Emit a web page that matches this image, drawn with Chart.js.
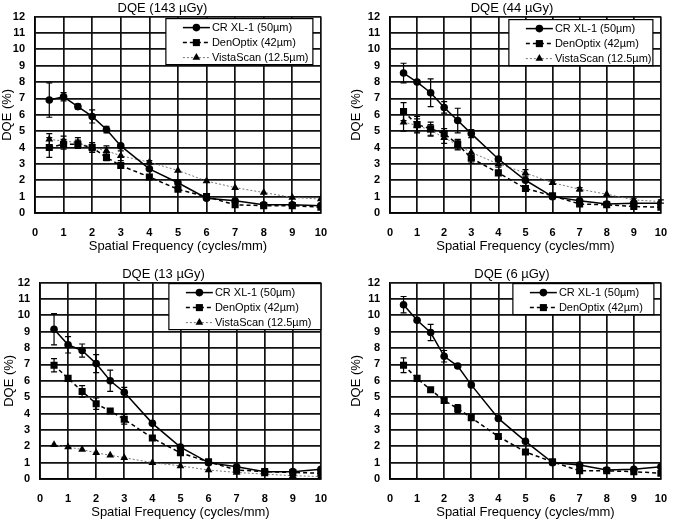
<!DOCTYPE html>
<html>
<head>
<meta charset="utf-8">
<script src="https://cdn.jsdelivr.net/npm/chart.js@4/dist/chart.umd.min.js"></script>
<style>
  body { margin: 0; background: #fff; }
  #wrap { position: relative; width: 681px; height: 520px; }
  canvas { position: absolute; }
</style>
</head>
<body>
<div id="wrap">
  <canvas id="c1" width="340" height="254" style="left:0;top:0"></canvas>
  <canvas id="c2" width="340" height="254" style="left:340px;top:0"></canvas>
  <canvas id="c3" width="340" height="254" style="left:0;top:266px"></canvas>
  <canvas id="c4" width="340" height="254" style="left:340px;top:266px"></canvas>
</div>
<script>
// Frecuencias espaciales (cycles/mm)
const freq = [0.5, 1, 1.5, 2, 2.5, 3, 4, 5, 6, 7, 8, 9, 10];

const titulos = ['DQE (143 µGy)', 'DQE (44 µGy)', 'DQE (13 µGy)', 'DQE (6 µGy)'];
const nombres = ['CR XL-1 (50µm)', 'DenOptix (42µm)', 'VistaScan (12.5µm)'];

// 143 µGy
const cr143 = [6.9, 7.1, 6.5, 5.9, 5.1, 4.1, 2.7, 1.85, 0.9, 0.75, 0.5, 0.5, 0.45];
const crErr143 = [1.05, 0.25, 0.15, 0.4, 0.2, 0.1, 0, 0, 0, 0, 0, 0, 0];
const den143 = [4.0, 4.2, 4.2, 4.0, 3.4, 2.9, 2.2, 1.45, 1.0, 0.5, 0.45, 0.45, 0.35];
const denErr143 = [0.6, 0.3, 0.25, 0.2, 0.2, 0.1, 0, 0, 0, 0, 0, 0, 0];
const vis143 = [4.5, 4.4, 4.3, 4.0, 3.8, 3.5, 3.1, 2.6, 1.95, 1.55, 1.25, 0.95, 0.85];
const visErr143 = [0.35, 0.3, 0.3, 0.3, 0.3, 0.3, 0.1, 0, 0, 0, 0, 0, 0];

// 44 µGy
const cr44 = [8.55, 8.0, 7.35, 6.45, 5.65, 4.85, 3.3, 2.0, 1.0, 0.75, 0.55, 0.6, 0.6];
const crErr44 = [0.6, 0.05, 0.85, 0.35, 0.75, 0.25, 0.15, 0, 0, 0, 0, 0, 0];
const den44 = [6.2, 5.4, 5.15, 4.85, 4.2, 3.35, 2.45, 1.5, 1.05, 0.55, 0.5, 0.4, 0.35];
const denErr44 = [0.55, 0.5, 0.4, 0.3, 0.3, 0.3, 0, 0, 0, 0, 0, 0, 0];
const vis44 = [5.55, 5.35, 5.05, 4.6, 4.15, 3.7, 3.0, 2.45, 1.85, 1.45, 1.15, 0.8, 0.7];
const visErr44 = [0.55, 0.4, 0.35, 0.35, 0.3, 0.3, 0.2, 0.2, 0.1, 0.1, 0, 0.1, 0.1];

// 13 µGy
const cr13 = [9.15, 8.2, 7.85, 7.05, 6.0, 5.3, 3.4, 1.95, 1.0, 0.75, 0.45, 0.45, 0.6];
const crErr13 = [0.95, 0.5, 0.4, 0.55, 0.65, 0.3, 0, 0, 0, 0, 0, 0, 0];
const den13 = [6.95, 6.15, 5.35, 4.6, 4.15, 3.65, 2.5, 1.6, 1.05, 0.55, 0.45, 0.4, 0.35];
const denErr13 = [0.4, 0.05, 0.35, 0.35, 0.05, 0.3, 0.1, 0, 0, 0, 0, 0, 0];
const vis13 = [2.1, 1.95, 1.8, 1.6, 1.45, 1.3, 1.0, 0.8, 0.55, 0.4, 0.3, 0.2, 0.15];

// 6 µGy
const cr6 = [10.65, 9.7, 8.95, 7.5, 6.9, 5.75, 3.7, 2.3, 1.0, 0.85, 0.55, 0.6, 0.75];
const crErr6 = [0.5, 0, 0.5, 0.35, 0, 0, 0, 0, 0, 0, 0, 0, 0];
const den6 = [6.95, 6.15, 5.45, 4.8, 4.3, 3.75, 2.6, 1.65, 1.05, 0.5, 0.5, 0.45, 0.35];
const denErr6 = [0.45, 0.15, 0, 0.15, 0.25, 0, 0, 0, 0, 0, 0, 0, 0];

const fuente = 'Liberation Sans, Arial, sans-serif';

// Estilos de cada serie
const estilos = [
    { borderColor: '#000', borderWidth: 1.5, borderDash: [], pointStyle: 'circle', pointRadius: 3.8 },
    { borderColor: '#000', borderWidth: 1.5, borderDash: [4, 3], pointStyle: 'rect', pointRadius: 5 },
    { borderColor: '#777', borderWidth: 1, borderDash: [2, 2], pointStyle: 'triangle', pointRadius: 4.5 }
];

function dibujarMarcador(ctx, estilo, x, y, r) {
    ctx.beginPath();
    if (estilo === 'circle') {
        ctx.arc(x, y, r, 0, Math.PI * 2);
    } else if (estilo === 'rect') {
        const s = r * Math.SQRT1_2;
        ctx.rect(x - s, y - s, 2 * s, 2 * s);
    } else {
        ctx.moveTo(x, y - r);
        ctx.lineTo(x + r * 0.866, y + r * 0.5);
        ctx.lineTo(x - r * 0.866, y + r * 0.5);
        ctx.closePath();
    }
    ctx.fill();
}

// Barras de error verticales
const barrasError = {
    id: 'barrasError',
    afterDatasetsDraw(chart) {
        const ctx = chart.ctx;
        const sx = chart.scales.x, sy = chart.scales.y;
        chart.data.datasets.forEach(ds => {
            if (!ds.errores) return;
            ctx.save();
            ctx.strokeStyle = '#000';
            ctx.lineWidth = 1.2;
            ds.data.forEach((p, i) => {
                const e = ds.errores[i];
                if (!e) return;
                const px = sx.getPixelForValue(p.x);
                const arriba = sy.getPixelForValue(p.y + e);
                const abajo = sy.getPixelForValue(p.y - e);
                ctx.beginPath();
                ctx.moveTo(px, arriba); ctx.lineTo(px, abajo);
                ctx.moveTo(px - 3, arriba); ctx.lineTo(px + 3, arriba);
                ctx.moveTo(px - 3, abajo); ctx.lineTo(px + 3, abajo);
                ctx.stroke();
            });
            ctx.restore();
        });
    }
};

// Leyenda con recuadro dentro del área del gráfico
const leyendaCaja = {
    id: 'leyendaCaja',
    afterDraw(chart, args, opts) {
        const a = chart.chartArea, ctx = chart.ctx;
        const n = chart.data.datasets.length;
        const izq = a.right - opts.derecha - opts.ancho;
        const arr = a.top + opts.arriba;
        const alto = n * 15 + 1;
        ctx.save();
        ctx.fillStyle = '#fff';
        ctx.fillRect(izq, arr, opts.ancho, alto);
        ctx.strokeStyle = '#000';
        ctx.lineWidth = 1.2;
        ctx.strokeRect(izq, arr, opts.ancho, alto);
        chart.data.datasets.forEach((ds, i) => {
            const cy = arr + 9 + i * 15;
            const x0 = izq + 17, x1 = izq + 44;
            ctx.setLineDash(ds.borderDash || []);
            ctx.strokeStyle = ds.borderColor;
            ctx.lineWidth = ds.borderWidth;
            ctx.beginPath(); ctx.moveTo(x0, cy); ctx.lineTo(x1, cy); ctx.stroke();
            ctx.setLineDash([]);
            ctx.fillStyle = '#000';
            dibujarMarcador(ctx, ds.pointStyle, (x0 + x1) / 2, cy, ds.pointRadius);
            ctx.font = '11px ' + fuente;
            ctx.textBaseline = 'middle';
            ctx.fillText(ds.label, x1 + 2, cy);
        });
        ctx.restore();
    }
};

function crearGrafico(id, titulo, series, errores, cfg) {
    const datasets = series.map((valores, i) => Object.assign({
        label: nombres[i],
        data: freq.map((f, j) => ({ x: f, y: valores[j] })),
        errores: errores[i],
        pointBackgroundColor: '#000',
        pointBorderColor: '#000',
        pointBorderWidth: 0,
        tension: 0,
        fill: false
    }, estilos[i]));

    return new Chart(document.getElementById(id), {
        type: 'line',
        data: { datasets: datasets },
        plugins: [barrasError, leyendaCaja],
        options: {
            responsive: false,
            animation: false,
            layout: { padding: { left: cfg.padIzq, right: cfg.padDer, top: 0, bottom: 0 } },
            plugins: {
                legend: { display: false },
                tooltip: { enabled: false },
                title: {
                    display: true,
                    text: titulo,
                    color: '#000',
                    font: { family: fuente, size: 13, weight: 'normal' },
                    padding: { top: 0, bottom: 0 }
                },
                leyendaCaja: cfg.leyenda
            },
            scales: {
                x: {
                    type: 'linear',
                    min: 0,
                    max: 10,
                    ticks: { stepSize: 1, color: '#000', padding: 13, maxRotation: 0,
                             font: { family: fuente, size: 11, weight: 'bold' } },
                    grid: { color: '#111', lineWidth: 1.7, drawTicks: false },
                    border: { color: '#000', width: 1.7 },
                    title: { display: true, text: 'Spatial Frequency (cycles/mm)', color: '#000',
                             font: { family: fuente, size: 13 }, padding: 0 },
                    afterFit(s) { s.height = 41; }
                },
                y: {
                    min: 0,
                    max: 12,
                    ticks: { stepSize: 1, color: '#000', padding: 10,
                             font: { family: fuente, size: 11, weight: 'bold' } },
                    grid: { color: '#111', lineWidth: 1.7, drawTicks: false },
                    border: { color: '#000', width: 1.7 },
                    title: { display: true, text: 'DQE (%)', color: '#000',
                             font: { family: fuente, size: 13 }, padding: 0 },
                    afterFit(s) { s.width = cfg.anchoY; }
                }
            }
        }
    });
}

crearGrafico('c1', titulos[0], [cr143, den143, vis143], [crErr143, denErr143, visErr143],
    { padIzq: 0, padDer: 15, anchoY: 35, leyenda: { derecha: 8, arriba: 2, ancho: 147 } });
crearGrafico('c2', titulos[1], [cr44, den44, vis44], [crErr44, denErr44, visErr44],
    { padIzq: 9, padDer: 5, anchoY: 41, leyenda: { derecha: 8, arriba: 3, ancho: 144 } });
crearGrafico('c3', titulos[2], [cr13, den13, vis13], [crErr13, denErr13, null],
    { padIzq: 2, padDer: 15, anchoY: 38, leyenda: { derecha: 0, arriba: 1, ancho: 152 } });
crearGrafico('c4', titulos[3], [cr6, den6], [crErr6, denErr6],
    { padIzq: 9, padDer: 5, anchoY: 41, leyenda: { derecha: 7, arriba: 1, ancho: 141 } });
</script>
</body>
</html>
